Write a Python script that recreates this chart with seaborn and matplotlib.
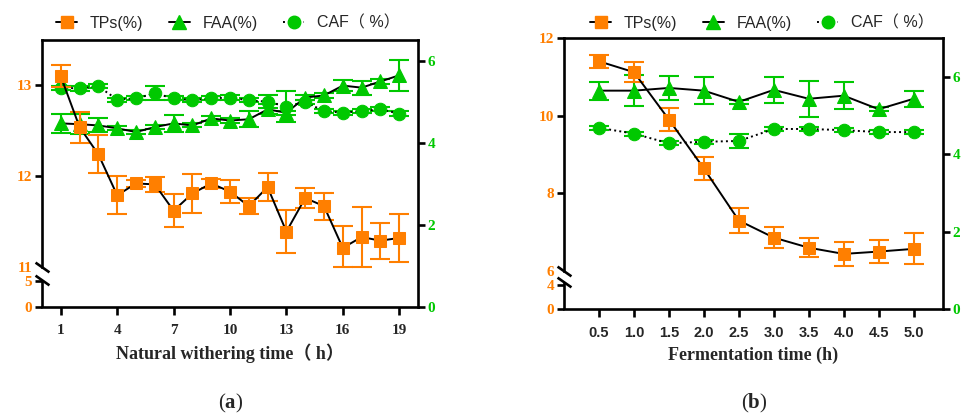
import numpy as np
import matplotlib
matplotlib.use("Agg")
import matplotlib.pyplot as plt
from matplotlib.lines import Line2D
import seaborn as sns

# ---- data (a) natural withering ----
wither_time = [1, 2, 3, 4, 5, 6, 7, 8, 9, 10, 11, 12, 13, 14, 15, 16, 17, 18, 19]
tps_a = [13.10, 12.54, 12.24, 11.79, 11.92, 11.91, 11.62, 11.81, 11.92, 11.83,
         11.67, 11.88, 11.39, 11.76, 11.67, 11.21, 11.33, 11.29, 11.32]
tps_a_sd = [0.12, 0.17, 0.21, 0.21, 0.04, 0.08, 0.18, 0.21, 0.05, 0.13,
            0.09, 0.15, 0.24, 0.11, 0.15, 0.24, 0.33, 0.20, 0.26]
faa_a = [4.47, 4.45, 4.42, 4.35, 4.26, 4.38, 4.47, 4.42, 4.59, 4.54,
         4.57, 4.81, 4.73, 5.10, 5.15, 5.39, 5.34, 5.49, 5.64]
faa_a_sd = [0.23, 0.25, 0.17, 0.05, 0.05, 0.05, 0.20, 0.05, 0.05, 0.05,
            0.20, 0.12, 0.05, 0.05, 0.05, 0.14, 0.17, 0.05, 0.37]
caf_a = [5.34, 5.32, 5.37, 5.05, 5.08, 5.20, 5.08, 5.03, 5.08, 5.10,
         5.03, 5.00, 4.88, 4.99, 4.77, 4.73, 4.77, 4.81, 4.71]
caf_a_sd = [0.05, 0.05, 0.05, 0.05, 0.05, 0.17, 0.05, 0.05, 0.05, 0.05,
            0.05, 0.16, 0.37, 0.05, 0.05, 0.05, 0.05, 0.05, 0.05]

# ---- data (b) fermentation ----
ferm_time = [0.5, 1.0, 1.5, 2.0, 2.5, 3.0, 3.5, 4.0, 4.5, 5.0]
ferm_labels = ["0.5", "1.0", "1.5", "2.0", "2.5", "3.0", "3.5", "4.0", "4.5", "5.0"]
tps_b = [11.40, 11.12, 9.90, 8.64, 7.30, 6.86, 6.60, 6.44, 6.50, 6.57]
tps_b_sd = [0.17, 0.25, 0.30, 0.30, 0.33, 0.28, 0.25, 0.30, 0.30, 0.40]
faa_b = [5.64, 5.64, 5.71, 5.64, 5.35, 5.66, 5.43, 5.51, 5.16, 5.43]
faa_b_sd = [0.23, 0.40, 0.30, 0.35, 0.05, 0.33, 0.47, 0.35, 0.05, 0.20]
caf_b = [4.68, 4.53, 4.28, 4.32, 4.34, 4.65, 4.65, 4.62, 4.57, 4.57]
caf_b_sd = [0.05, 0.05, 0.05, 0.05, 0.18, 0.05, 0.05, 0.05, 0.05, 0.05]

ORANGE = "#FF7F00"
GREEN = "#00C800"

sns.set_style("ticks")
plt.rcParams["mathtext.fontset"] = "custom"
plt.rcParams["mathtext.rm"] = "Liberation Serif"
plt.rcParams["mathtext.bf"] = "Liberation Serif:bold"

SERIF = ["Liberation Serif", "Noto Sans CJK SC"]
SANS = ["Liberation Sans", "Noto Sans CJK SC"]
LW = 1.9


def broken_scale(vals, pix):
    # piecewise linear mapping used for the broken left axis
    vals = np.asarray(vals, float)
    pix = np.asarray(pix, float)

    def _map(v, a, b):
        v = np.asarray(v, float)
        out = np.interp(v, a, b)
        out = np.where(v < a[0], b[0] + (v - a[0]) * (b[1] - b[0]) / (a[1] - a[0]), out)
        out = np.where(v > a[-1], b[-1] + (v - a[-1]) * (b[-1] - b[-2]) / (a[-1] - a[-2]), out)
        return out

    return (lambda v: _map(v, vals, pix)), (lambda p: _map(p, pix, vals))


def draw_series(ax, x, y, sd, marker, color, ls, ms):
    ax.errorbar(x, y, yerr=sd, fmt="none", ecolor=color, elinewidth=1.5,
                capsize=7, capthick=1.5, zorder=2)
    sns.lineplot(x=x, y=y, ax=ax, color="black", linewidth=1.4, linestyle=ls,
                 marker=marker, markersize=ms, markerfacecolor=color,
                 markeredgecolor=color, errorbar=None, zorder=3)


def make_panel(fig, rect, x, xticks, xticklabels, xlim, tps, tps_sd, faa, faa_sd,
               caf, caf_sd, scale_vals, scale_pix, tp_ticks, tp_top, breaks, right_top,
               xlabel, xtick_family):
    ax = fig.add_axes(rect)
    ax_tp = ax.twinx()

    draw_series(ax, x, faa, faa_sd, "^", GREEN, "-", 9.5)
    draw_series(ax, x, caf, caf_sd, "o", GREEN, ":", 9)
    draw_series(ax_tp, x, tps, tps_sd, "s", ORANGE, "-", 9)

    fwd, inv = broken_scale(scale_vals, scale_pix)
    ax_tp.set_yscale("function", functions=(fwd, inv))
    ax_tp.set_ylim(0, tp_top)
    ax.set_ylim(0, right_top)
    ax.set_xlim(*xlim)
    ax.set_xticks(xticks)
    ax.set_xticklabels(xticklabels)

    ax.yaxis.set_ticks_position("right")
    ax_tp.yaxis.set_ticks_position("left")
    ax.set_yticks(range(0, int(right_top) + 1, 2))
    ax_tp.set_yticks(tp_ticks)
    ax_tp.set_yticklabels([str(t) for t in tp_ticks])
    ax_tp.yaxis.set_minor_locator(matplotlib.ticker.NullLocator())

    for t in ax_tp.yaxis.get_major_ticks():
        if t.get_loc() in breaks:
            t.tick1line.set_visible(False)

    ax.set_xlabel(xlabel, family=SERIF, weight="bold", fontsize=13, labelpad=5)
    ax.set_ylabel("")
    ax_tp.set_ylabel("")

    for s in ax_tp.spines.values():
        s.set_visible(False)
    ax.spines["left"].set_visible(False)
    for k in ("top", "right", "bottom"):
        ax.spines[k].set_linewidth(LW)
        ax.spines[k].set_color("black")

    ax.tick_params(axis="x", length=6, width=LW, color="black", pad=6)
    ax.tick_params(axis="y", length=5, width=LW, color="black", pad=2,
                   labelcolor=GREEN)
    ax_tp.tick_params(axis="y", length=5, width=LW, color="black", pad=2,
                      labelcolor=ORANGE)
    for lab in ax.get_xticklabels():
        lab.set_family(xtick_family)
        lab.set_weight("bold")
        lab.set_fontsize(11 if xtick_family == SERIF else 10.5)
    for lab in ax.get_yticklabels() + ax_tp.get_yticklabels():
        lab.set_family(SERIF)
        lab.set_weight("bold")
        lab.set_fontsize(11)

    # broken left spine
    tr = ax_tp.get_yaxis_transform()
    lo, hi = breaks
    ax_tp.plot([0, 0], [0, lo], transform=tr, color="black", lw=LW,
               clip_on=False, solid_capstyle="butt")
    ax_tp.plot([0, 0], [hi, tp_top], transform=tr, color="black", lw=LW,
               clip_on=False, solid_capstyle="projecting")
    ax_tp.plot([0, 0], [lo, hi], transform=tr, marker=[(-1, 0.7), (1, -0.7)],
               markersize=10, linestyle="none", color="black", mec="black",
               mew=LW, clip_on=False)
    return ax, ax_tp


fig = plt.figure(figsize=(9.64, 4.17), dpi=100)

make_panel(fig, [42 / 964, 110 / 417, 376 / 964, 267 / 417],
           wither_time, [1, 4, 7, 10, 13, 16, 19], ["1", "4", "7", "10", "13", "16", "19"],
           (0, 20), tps_a, tps_a_sd, faa_a, faa_a_sd, caf_a, caf_a_sd,
           [0, 5, 11, 13.5], [0, 26, 40, 267], [0, 5, 11, 12, 13], 13.5, (5.4, 11),
           6.5, "Natural withering time（ h）", SERIF)

make_panel(fig, [564 / 964, 108 / 417, 379 / 964, 271 / 417],
           ferm_time, ferm_time, ferm_labels,
           (0, 5.42), tps_b, tps_b_sd, faa_b, faa_b_sd, caf_b, caf_b_sd,
           [0, 4, 6, 12], [0, 24, 38, 271], [0, 4, 6, 8, 10, 12], 12, (4.5, 6),
           7, "Fermentation time (h)", SANS)

handles = [
    Line2D([], [], color="black", lw=1.4, ls="-", marker="s", ms=9,
           mfc=ORANGE, mec=ORANGE),
    Line2D([], [], color="black", lw=1.4, ls="-", marker="^", ms=9.5,
           mfc=GREEN, mec=GREEN),
    Line2D([], [], color="black", lw=1.4, ls=":", marker="o", ms=9,
           mfc=GREEN, mec=GREEN),
]
labels = ["TPs(%)", "FAA(%)", "CAF（ %）"]
for cx in (228 / 964, 762 / 964):
    fig.legend(handles, labels, loc="center", bbox_to_anchor=(cx, 1 - 23 / 417),
               ncol=3, frameon=False, handlelength=1.3, handletextpad=0.8,
               columnspacing=1.6, prop={"family": SANS, "size": 11.5})

fig.text(231 / 964, 1 - 403 / 417, r"($\mathbf{a}$)", ha="center", va="center",
         fontsize=15, family="Liberation Serif")
fig.text(754 / 964, 1 - 403 / 417, r"($\mathbf{b}$)", ha="center", va="center",
         fontsize=15, family="Liberation Serif")

fig.savefig("out.png", dpi=100)
